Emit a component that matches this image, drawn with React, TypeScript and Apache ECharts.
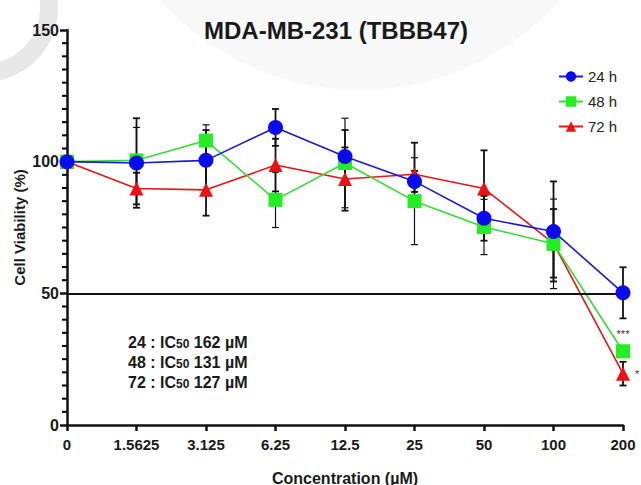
import React, { useEffect, useRef } from "react";
import * as echarts from "echarts";

const categories = ["0", "1.5625", "3.125", "6.25", "12.5", "25", "50", "100", "200"];
const mean24 = [100, 99.5, 100.5, 113, 102, 92.5, 78.5, 73.5, 50.2];
const sd24 = [0, 17, 11.5, 7, 10, 4, 8.5, 19, 9.7];
const mean48 = [100, 100.5, 108, 85.5, 99.5, 85, 75.2, 68.8, 28];
const sd48 = [0, 12.5, 6, 10.5, 17, 16.5, 10.5, 17, 0];
const mean72 = [100, 89.8, 89.3, 98.7, 93.4, 95.2, 89.8, 69, 19.5];
const sd72 = [0, 6, 9.8, 10, 12, 12, 14.5, 13, 4.5];
const yTicks = [0, 50, 100, 150];
const yMinorTicks = [
  5, 10, 15, 20, 25, 30, 35, 40, 45,
  55, 60, 65, 70, 75, 80, 85, 90, 95,
  105, 110, 115, 120, 125, 130, 135, 140, 145,
];
const icLines = [
  { h: "24", ic: "162" },
  { h: "48", ic: "131" },
  { h: "72", ic: "127" },
];

const FONT = 'Arial, "Liberation Sans", Helvetica, sans-serif';

function errorSeries(mean: number[], sd: number[], z: number, lw: number) {
  return {
    type: "custom",
    z,
    silent: true,
    data: mean.map((m, i) => [i, m, sd[i]]),
    encode: { x: 0, y: 1 },
    renderItem: (params: any, api: any) => {
      const i = api.value(0);
      const m = api.value(1);
      const s = api.value(2);
      if (!s) return { type: "group", children: [] };
      const top = api.coord([i, m + s]);
      const bot = api.coord([i, m - s]);
      const w = 3.5;
      const style = { stroke: "#111", lineWidth: lw };
      return {
        type: "group",
        children: [
          { type: "line", shape: { x1: top[0], y1: top[1], x2: bot[0], y2: bot[1] }, style },
          { type: "line", shape: { x1: top[0] - w, y1: top[1], x2: top[0] + w, y2: top[1] }, style },
          { type: "line", shape: { x1: bot[0] - w, y1: bot[1], x2: bot[0] + w, y2: bot[1] }, style },
        ],
      };
    },
  };
}

export default function App() {
  const ref = useRef<HTMLDivElement>(null);
  useEffect(() => {
    document.body.style.margin = "0";
    const chart = echarts.init(ref.current!, null, { renderer: "svg" });
    const n = categories.length;
    const yMin = yTicks[0];
    const yMax = yTicks[yTicks.length - 1];
    chart.setOption({
      animation: false,
      backgroundColor: "#ffffff",
      title: {
        text: "MDA-MB-231 (TBBB47)",
        left: 199,
        top: 13,
        textStyle: { fontFamily: FONT, fontSize: 24, fontWeight: "bold", color: "#1a1a1a" },
      },
      legend: {
        orient: "vertical",
        left: 553,
        top: 64,
        itemWidth: 24,
        itemHeight: 13,
        itemGap: 10,
        data: ["24 h", "48 h", "72 h"],
        textStyle: { fontFamily: FONT, fontSize: 15, color: "#222" },
      },
      grid: { left: 67, right: 18, top: 30, bottom: 60, containLabel: false, outerBoundsMode: "none" },
      xAxis: {
        type: "category",
        data: categories,
        boundaryGap: false,
        name: "Concentration (µM)",
        nameLocation: "middle",
        nameGap: 45,
        nameMoveOverlap: false,
        nameTextStyle: { fontFamily: FONT, fontSize: 16, fontWeight: "bold", color: "#1a1a1a" },
        axisLine: { lineStyle: { color: "#111", width: 2.5 } },
        axisTick: { alignWithLabel: true, length: 6, lineStyle: { width: 2.5, color: "#111" } },
        axisLabel: { fontFamily: FONT, fontSize: 15, fontWeight: "bold", color: "#1a1a1a", margin: 12, interval: 0 },
        splitLine: { show: false },
      },
      yAxis: {
        type: "value",
        min: yMin,
        max: yMax,
        interval: 50,
        name: "Cell Viability (%)",
        nameLocation: "middle",
        nameGap: 40,
        nameMoveOverlap: false,
        nameRotate: 90,
        nameTextStyle: { fontFamily: FONT, fontSize: 15, fontWeight: "bold", color: "#1a1a1a" },
        axisLine: { show: true, lineStyle: { color: "#111", width: 2.5 } },
        axisTick: { show: true, length: 7, lineStyle: { width: 2.5, color: "#111" } },
        axisLabel: { fontFamily: FONT, fontSize: 16, fontWeight: "bold", color: "#1a1a1a", margin: 8 },
        splitLine: { show: false },
      },
      series: [
        {
          type: "custom",
          silent: true,
          z: 10,
          clip: false,
          data: yMinorTicks.map((v) => [0, v]),
          encode: { x: 0, y: 1 },
          renderItem: (params: any, api: any) => {
            const p = api.coord([api.value(0), api.value(1)]);
            return {
              type: "line",
              shape: { x1: p[0] - 5, y1: p[1], x2: p[0], y2: p[1] },
              style: { stroke: "#000", lineWidth: 2 },
            };
          },
        },
        errorSeries(mean24, sd24, 2, 1.8),
        errorSeries(mean48, sd48, 2, 1.2),
        errorSeries(mean72, sd72, 2, 1.8),
        {
          name: "72 h",
          type: "line",
          z: 3,
          data: mean72.map((v, i) =>
            i === n - 1
              ? { value: v, label: { show: true, formatter: "*", position: "right", distance: 5, fontSize: 11, color: "#333" } }
              : v
          ),
          symbol: "triangle",
          symbolSize: 14,
          lineStyle: { color: "#e81515", width: 1.6 },
          itemStyle: { color: "#ee1111" },
          markLine: {
            silent: true,
            symbol: "none",
            label: { show: false },
            lineStyle: { color: "#111", width: 2.2, type: "solid" },
            data: [{ yAxis: 50 }],
          },
        },
        {
          name: "48 h",
          type: "line",
          z: 4,
          data: mean48.map((v, i) =>
            i === n - 1
              ? { value: v, label: { show: true, formatter: "***", position: "top", distance: 5, fontSize: 11, color: "#333" } }
              : v
          ),
          symbol: "rect",
          symbolSize: 14,
          lineStyle: { color: "#33dd33", width: 1.6 },
          itemStyle: { color: "#22ee22" },
        },
        {
          name: "24 h",
          type: "line",
          z: 5,
          data: mean24,
          symbol: "circle",
          symbolSize: 15,
          lineStyle: { color: "#1a1ad0", width: 1.6 },
          itemStyle: { color: "#0a0af0" },
        },
      ],
      graphic: [
        {
          type: "circle",
          silent: true,
          z: -20,
          shape: { cx: 360, cy: -177, r: 267 },
          style: { fill: "#f8f8f8" },
        },
        {
          type: "ring",
          silent: true,
          z: -10,
          shape: { cx: -16, cy: 8, r: 74, r0: 56 },
          style: { fill: "#e8e8e8" },
        },
        ...icLines.map((l, k) => ({
          type: "text",
          left: 128,
          top: 334 + k * 20,
          style: {
            text: `${l.h} : IC{sub|50} ${l.ic} µM`,
            font: `bold 16px ${FONT}`,
            fill: "#1a1a1a",
            rich: {
              sub: { fontFamily: FONT, fontSize: 12, fontWeight: "bold", fill: "#1a1a1a", padding: [3, 0, 0, 0] },
            },
          },
        })),
      ],
    });
    return () => chart.dispose();
  }, []);
  return (
    <div
      ref={ref}
      style={{ position: "absolute", left: 0, top: 0, width: 641, height: 485 }}
    />
  );
}
